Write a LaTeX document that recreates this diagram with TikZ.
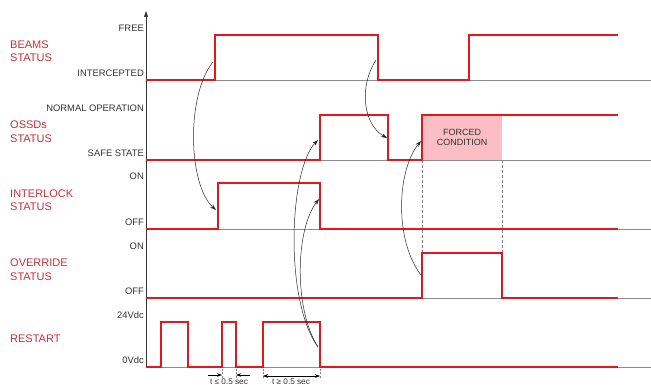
\documentclass[tikz,border=0pt]{standalone}
\usepackage{fontspec}
\setmainfont{Liberation Sans}
\usetikzlibrary{arrows.meta}
\definecolor{sigred}{RGB}{228,22,30}
\definecolor{lblred}{RGB}{205,45,55}
\definecolor{pinkbg}{RGB}{250,190,196}
\definecolor{basegray}{RGB}{140,140,140}
\definecolor{txtgray}{RGB}{50,50,50}
\begin{document}
\begin{tikzpicture}[x=1pt,y=-1pt,
  sig/.style={draw=sigred,line width=2.6pt,line join=miter},
  base/.style={draw=basegray,line width=0.8pt},
  lvl/.style={anchor=base east,font=\fontsize{9.4}{10}\selectfont,text=txtgray,inner sep=0pt},
  chan/.style={anchor=west,align=left,font=\fontsize{11}{13.5}\selectfont,text=lblred,inner sep=0pt},
  cause/.style={draw=black!85,line width=0.5pt,-{Stealth[length=6pt,width=4pt]}},
  guide/.style={draw=gray,dashed,line width=0.6pt,dash pattern=on 3pt off 2pt},
  dim/.style={draw=black,line width=0.5pt},
  tick/.style={draw=gray,line width=0.5pt,dash pattern=on 2pt off 1.5pt},
  note/.style={font=\fontsize{9}{10}\selectfont,text=txtgray,inner sep=0pt},
  tnote/.style={font=\fontsize{8.2}{9}\selectfont,text=txtgray,inner sep=0pt}]
\useasboundingbox (0,0) rectangle (651,387);

% pink forced area
\fill[pinkbg] (422,115) rectangle (502,160);
\node[note,align=center] (forced) at (462,137) {FORCED\\CONDITION};

% baselines
\foreach \yy in {80,160,229,298,367} \draw[base] (146,\yy) -- (651,\yy);

% dashed guides
\coordinate (g1t) at (422,160); \coordinate (g1b) at (422,253);
\coordinate (g2t) at (502,160); \coordinate (g2b) at (502,253);
\draw[guide] (g1t) -- (g1b);
\draw[guide] (g2t) -- (g2b);

% axis
\coordinate (ax0) at (146,368); \coordinate (ax1) at (146,11);
\draw[draw=black!80,line width=0.7pt,-{Triangle[length=6pt,width=4pt]}] (ax0) -- (ax1);

% channel labels
\node[chan] (beams) at (10,51) {BEAMS\\STATUS};
\node[chan] (ossd) at (10,131.5) {OSSDs\\STATUS};
\node[chan] (ilk) at (10,200) {INTERLOCK\\STATUS};
\node[chan] (ovr) at (10,269.5) {OVERRIDE\\STATUS};
\node[chan] (rst) at (10,338.5) {RESTART};

% level labels
\node[lvl] (free) at (144,32) {FREE};
\node[lvl] (intc) at (144,77) {INTERCEPTED};
\node[lvl] (norm) at (144,112) {NORMAL OPERATION};
\node[lvl] (safe) at (144,157) {SAFE STATE};
\node[lvl] (on1) at (144,180) {ON};
\node[lvl] (off1) at (144,226) {OFF};
\node[lvl] (on2) at (144,250) {ON};
\node[lvl] (off2) at (144,295) {OFF};
\node[lvl] (v24) at (144,319) {24Vdc};
\node[lvl] (v0) at (144,364) {0Vdc};

% signals
\draw[sig] (146,80) -- (215,80) -- (215,35) -- (378,35) -- (378,80) -- (469,80) -- (469,35) -- (618,35);
\draw[sig] (146,160) -- (320,160) -- (320,115) -- (388,115) -- (388,160) -- (422,160) -- (422,115) -- (618,115);
\draw[sig] (146,229) -- (218,229) -- (218,183) -- (320,183) -- (320,229) -- (618,229);
\draw[sig] (146,298) -- (422,298) -- (422,253) -- (502,253) -- (502,298) -- (618,298);
\draw[sig] (146,367) -- (161,367) -- (161,322) -- (188,322) -- (188,367) -- (222,367) -- (222,322) -- (236,322) -- (236,367) -- (263,367) -- (263,322) -- (320,322) -- (320,367) -- (618,367);

% cause arrows
\coordinate (bUp) at (213,62);   \coordinate (iUp) at (216,210);
\coordinate (bDn) at (376,60);   \coordinate (oDn) at (387,138);
\coordinate (rDn) at (318,347);  \coordinate (oUp1) at (318,140);
\coordinate (iDn) at (319,199);
\coordinate (vUp) at (421,275);  \coordinate (oUp2) at (421,141);
\draw[cause] (bUp) .. controls (186,95) and (188,185) .. (iUp);
\draw[cause] (bDn) .. controls (358,88) and (364,125) .. (oDn);
\draw[cause] (rDn) .. controls (284,300) and (289,170) .. (oUp1);
\draw[cause] (rDn) .. controls (294,310) and (295,230) .. (iDn);
\draw[cause] (vUp) .. controls (394,240) and (397,170) .. (oUp2);

% timing dimensions
\coordinate (t1) at (222,369); \coordinate (t1b) at (222,378);
\coordinate (t2) at (236,369); \coordinate (t2b) at (236,378);
\coordinate (t3) at (263,369); \coordinate (t3b) at (263,378);
\coordinate (t4) at (320,369); \coordinate (t4b) at (320,378);
\foreach \a/\b in {t1/t1b,t2/t2b,t3/t3b,t4/t4b} \draw[tick] (\a) -- (\b);
\coordinate (d1s) at (208,375); \coordinate (d1e) at (222,375);
\coordinate (d2s) at (250,375); \coordinate (d2e) at (236,375);
\coordinate (d3s) at (263,376); \coordinate (d3e) at (320,376);
\draw[dim,-{Stealth[length=5pt,width=3.5pt]}] (d1s) -- (d1e);
\draw[dim,-{Stealth[length=5pt,width=3.5pt]}] (d2s) -- (d2e);
\draw[dim,{Stealth[length=5pt,width=3.5pt]}-{Stealth[length=5pt,width=3.5pt]}] (d3s) -- (d3e);
\node[tnote,anchor=north] (tle) at (229,379) {t ≤ 0.5 sec};
\node[tnote,anchor=north] (tge) at (291,379) {t ≥ 0.5 sec};
\end{tikzpicture}
\end{document}
